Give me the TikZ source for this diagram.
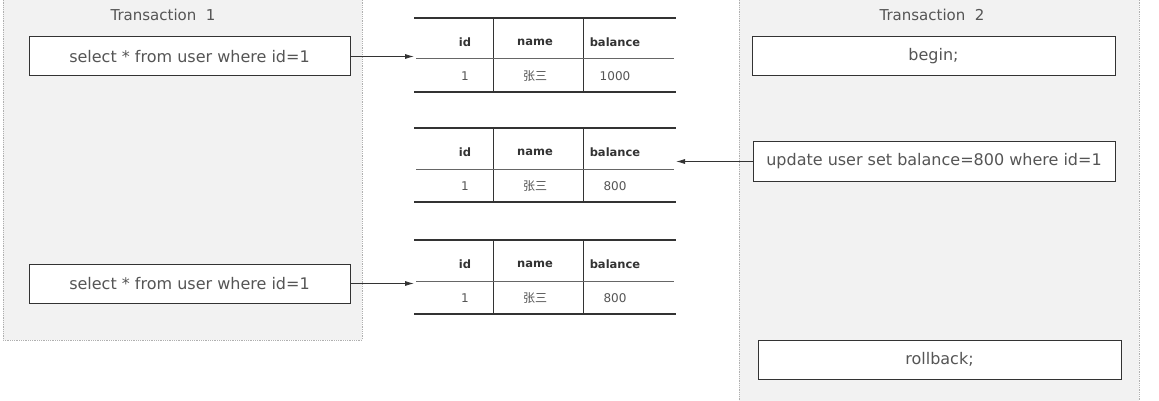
\documentclass[tikz,border=0pt]{standalone}
\usepackage{fontspec}
\setmainfont{DejaVu Sans}
\newfontfamily\cjk{Noto Sans CJK SC}
\usetikzlibrary{arrows.meta}
\definecolor{panelfill}{HTML}{F2F2F2}
\definecolor{paneldraw}{HTML}{B0B0B0}
\definecolor{txt}{HTML}{555555}
\definecolor{linec}{HTML}{333333}
\definecolor{midc}{HTML}{666666}
\tikzset{
  panel/.style={draw=paneldraw, fill=panelfill, densely dotted, line width=0.8pt},
  sqlbox/.style={draw=linec, fill=white, line width=1pt, minimum height=39pt, inner sep=0pt, text=txt, font=\fontsize{16}{18}\selectfont},
  title/.style={text=txt, font=\fontsize{15}{17}\selectfont},
  hdr/.style={text=linec, font=\bfseries\fontsize{11.5}{13}\selectfont},
  cell/.style={text=txt, font=\fontsize{12}{14}\selectfont},
  thick rule/.style={draw=linec, line width=2pt},
  thin rule/.style={draw=linec, line width=1pt},
  mid rule/.style={draw=midc, line width=1pt},
  conn/.style={draw=linec, line width=0.8pt, -{Latex[length=9pt,width=5pt]}},
}
\begin{document}
\begin{tikzpicture}[x=1pt,y=-1pt]
\useasboundingbox[fill=white] (0,0) rectangle (1159,401);
% panels
\path[panel] (3,-2) rectangle (362,340);
\path[panel] (739,-2) rectangle (1139,405);
\node[title] (t1) at (163,15) {Transaction\ \ 1};
\node[title] (t2) at (932,15) {Transaction\ \ 2};
% sql boxes
\node[sqlbox, minimum width=321pt] (q1) at (189.5,56.5) {select * from user where id=1};
\node[sqlbox, minimum width=321pt] (q2) at (189.5,283.5) {select * from user where id=1};
\node[sqlbox, minimum width=363pt] (b) at (933.5,56.5) {begin;};
\node[sqlbox, minimum width=362pt] (u) at (934,161.5) {update user set balance=800 where id=1};
\node[sqlbox, minimum width=363pt] (r) at (939.5,359.5) {rollback;};
% tables
\foreach \n/\top/\val in {A/18/1000, B/128/800, C/240/800}{
  \pgfmathsetmacro{\mid}{\top+41}
  \pgfmathsetmacro{\bot}{\top+74}
  \pgfmathsetmacro{\hy}{\top+24}
  \pgfmathsetmacro{\ry}{\top+58}
  \draw[thin rule] (493,\top) -- (493,\bot);
  \draw[thin rule] (583,\top) -- (583,\bot);
  \draw[mid rule] (416,\mid) -- (674,\mid);
  \draw[thick rule] (414,\top) -- (676,\top);
  \draw[thick rule] (414,\bot) -- (676,\bot);
  \coordinate (\n l) at (414,\mid);
  \coordinate (\n r) at (676,\mid-5);
  \node[hdr] (\n h1) at (465,\hy) {id};
  \node[hdr] (\n h2) at (535,\hy) {name};
  \node[hdr] (\n h3) at (615,\hy) {balance};
  \node[cell] (\n c1) at (465,\ry) {1};
  \node[cell] (\n c2) at (535,\ry) {\cjk 张三};
  \node[cell] (\n c3) at (615,\ry) {\val};
}
% connectors
\draw[conn] (q1.east) -- (q1.east -| Al);
\draw[conn] (u.west) -- (u.west -| Br);
\draw[conn] (q2.east) -- (q2.east -| Cl);
\end{tikzpicture}
\end{document}
